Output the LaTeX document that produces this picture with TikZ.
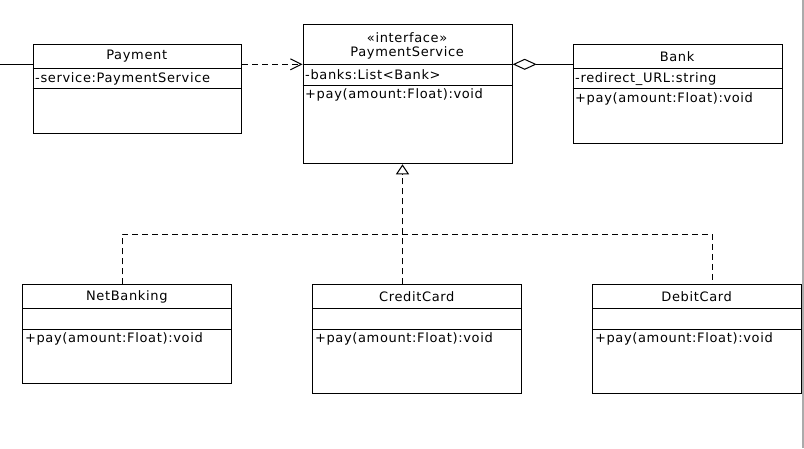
\documentclass[tikz,border=0pt]{standalone}
\usepackage{fontspec}
\setmainfont{DejaVu Sans}[LetterSpace=5]
\usetikzlibrary{arrows.meta}
\tikzset{
  classbox/.style={draw=black, line width=1pt, fill=white, inner sep=0pt, anchor=north west},
  sep/.style={draw=black, line width=1pt},
  ctext/.style={inner sep=0pt, font=\fontsize{13}{15}\selectfont, text=black},
  conn/.style={draw=black, line width=1pt},
  dep/.style={conn, dash pattern=on 6pt off 4pt},
}
\newcommand\umlclass[9]{%
  % #1 name, #2 x, #3 y, #4 w, #5 h, #6 header height, #7 title, #8 attr, #9 method
  \node[classbox, minimum width=#4pt, minimum height=#5pt] (#1) at (#2,#3) {};
  \draw[sep] (#2,#3+#6) -- ++(#4,0);
  \draw[sep] (#2,#3+#6+20.6) -- ++(#4,0);
  \node[ctext] (#1-title) at (#2+#4/2,#3+#6/2) {#7};
  \node[ctext, anchor=west] (#1-attr) at (#2+2.5,#3+#6+10.3) {#8};
  \node[ctext, anchor=west] (#1-meth) at (#2+2.5,#3+#6+20.6+9.8) {#9};
}
\begin{document}
\begin{tikzpicture}[x=1pt,y=-1pt]
\useasboundingbox (0,0) rectangle (804,448);
\fill[white] (0,0) rectangle (804,448);
\fill[black!33] (802,0) rectangle (804,448);

\umlclass{pay}{32.5}{44.3}{208.5}{89}{24}{Payment}{-service:PaymentService}{}
\umlclass{bank}{572.5}{44.3}{209.2}{99}{24}{Bank}{-redirect\_URL:string}{+pay(amount:Float):void}
\umlclass{net}{22.3}{284.3}{209}{99}{24.4}{NetBanking}{}{+pay(amount:Float):void}
\umlclass{cc}{312.3}{284.3}{209}{109}{24.4}{CreditCard}{}{+pay(amount:Float):void}
\umlclass{dc}{592.3}{284.3}{208.7}{109}{24.4}{DebitCard}{}{+pay(amount:Float):void}

% PaymentService (two-line header)
\node[classbox, minimum width=209.2pt, minimum height=139pt] (ps) at (302.5,24.3) {};
\draw[sep] (302.5,64.3) -- ++(209.2,0);
\draw[sep] (302.5,85.3) -- ++(209.2,0);
\node[ctext] (ps-stereo) at (407.1,37.7) {«interface»};
\node[ctext] (ps-title) at (407.1,53.3) {PaymentService};
\node[ctext, anchor=west] (ps-attr) at (305,74.8) {-banks:List<Bank>};
\node[ctext, anchor=west] (ps-meth) at (305,95.1) {+pay(amount:Float):void};

% connectors
\coordinate (ext) at (0,64);
\coordinate (row) at (0,64.3);
\draw[conn] (ext) -- (ext -| pay.west);
\draw[dep, -{Straight Barb[length=11pt,width=11pt,line width=1pt]}] (pay.east |- row) -- (ps.west |- row);
\draw[conn, {Diamond[open,fill=white,length=24pt,width=11pt,line width=1pt]}-] (ps.east |- row) -- (bank.west |- row);

\coordinate (j) at (402.5,234.3);
\coordinate (jl) at (122.3,234.3);
\coordinate (jr) at (712.7,234.3);
\draw[dep, -{Triangle[open,fill=white,length=10pt,width=13pt,line width=1pt]}] (cc.north -| j) -- (j) -- (ps.south -| j);
\draw[dep] (net.north -| jl) -- (jl) -- (jr) -- (dc.north -| jr);
\end{tikzpicture}
\end{document}
